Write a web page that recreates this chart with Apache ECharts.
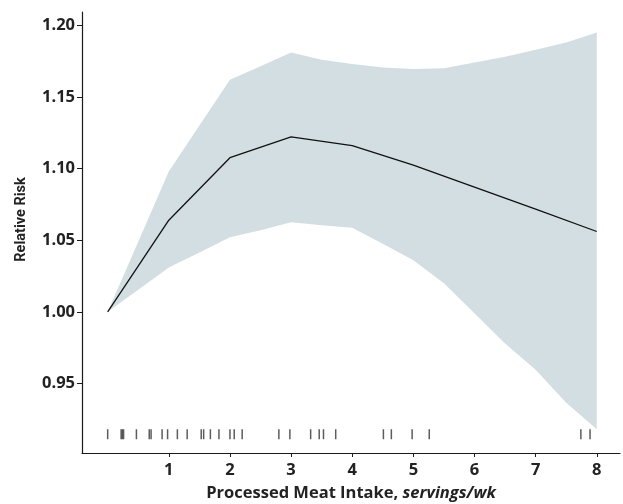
<!DOCTYPE html>
<html>
<head>
<meta charset="utf-8">
<script src="https://cdn.jsdelivr.net/npm/echarts@6/dist/echarts.min.js"></script>
<style>html,body{margin:0;padding:0;background:#fff}#c{width:623px;height:504px}</style>
</head>
<body>
<div id="c"></div>
<script>
// Fitted relative risk curve
var lineX = [0, 1, 2, 3, 4, 5, 6, 7, 8];
var lineRR = [1.000, 1.064, 1.1076, 1.1222, 1.116, 1.1025, 1.0871, 1.0717, 1.0561];
// Confidence band
var bandX = [0, 0.5, 1, 1.5, 2, 2.5, 3, 3.5, 4, 4.5, 5, 5.5, 6, 6.5, 7, 7.5, 8];
var bandUpper = [1.000, 1.049, 1.098, 1.130, 1.162, 1.1715, 1.181, 1.176, 1.173, 1.1705, 1.1695, 1.170, 1.174, 1.178, 1.183, 1.188, 1.195];
var bandLower = [1.000, 1.0155, 1.031, 1.0415, 1.052, 1.057, 1.0625, 1.0605, 1.0588, 1.0476, 1.036, 1.020, 0.999, 0.978, 0.9596, 0.9366, 0.918];
// Rug of observed intakes
var rugX = [0, 0.22, 0.24, 0.26, 0.47, 0.68, 0.71, 0.89, 0.98, 1.14, 1.30, 1.53, 1.57, 1.68, 1.82, 2.0, 2.07, 2.20, 2.80, 2.98, 3.32, 3.46, 3.53, 3.73, 4.51, 4.64, 4.98, 5.26, 7.74, 7.89];
var rugLevel = 0.9146;
// Ticks
var xTicks = [1, 2, 3, 4, 5, 6, 7, 8];
var yTicks = [0.95, 1.00, 1.05, 1.10, 1.15, 1.20];

var FONT = '"Open Sans", "Noto Sans", sans-serif';
var NARROW = 'Roboto, "Open Sans", sans-serif';
var chart = echarts.init(document.getElementById('c'), null, {renderer: 'canvas'});
var axisColor = '#1a1a1a';
chart.setOption({
  animation: false,
  grid: {left: 82, right: 3, top: 12, bottom: 51, containLabel: false, outerBoundsMode: 'none'},
  xAxis: {
    type: 'value', min: -0.42, max: 8.38,
    axisLine: {show: true, onZero: false, lineStyle: {color: axisColor, width: 1.2}},
    axisTick: {show: true, length: 4, customValues: xTicks, lineStyle: {color: axisColor}},
    axisLabel: {customValues: xTicks, margin: 9, color: '#222', fontFamily: FONT, fontWeight: 'bold', fontSize: 16.5},
    splitLine: {show: false},
    name: '{a|Processed Meat Intake, }{b|servings/wk}',
    nameLocation: 'middle', nameGap: 32,
    nameTextStyle: {rich: {
      a: {fontFamily: FONT, fontWeight: 'bold', fontSize: 16.5, color: '#222'},
      b: {fontFamily: FONT, fontWeight: 'bold', fontStyle: 'italic', fontSize: 16.5, color: '#222'}
    }}
  },
  yAxis: {
    type: 'value', min: 0.9015, max: 1.2093,
    axisLine: {show: true, onZero: false, lineStyle: {color: axisColor, width: 1.2}},
    axisTick: {show: true, length: 5, customValues: yTicks, lineStyle: {color: axisColor}},
    axisLabel: {customValues: yTicks, margin: 7, color: '#222', fontFamily: FONT, fontWeight: 'bold', fontSize: 16.5,
      formatter: function (v) { return v.toFixed(2); }},
    splitLine: {show: false},
    name: 'Relative Risk', nameLocation: 'middle', nameGap: 53,
    nameTextStyle: {fontFamily: NARROW, fontWeight: 'bold', fontSize: 14.5, color: '#222', padding: [0, 0, 0, 26]}
  },
  series: [
    {
      type: 'custom', silent: true, z: 1,
      data: [[0, 1]],
      renderItem: function (params, api) {
        var pts = [];
        for (var i = 0; i < bandX.length; i++) pts.push(api.coord([bandX[i], bandUpper[i]]));
        for (var j = bandX.length - 1; j >= 0; j--) pts.push(api.coord([bandX[j], bandLower[j]]));
        return {type: 'polygon', shape: {points: pts}, style: {fill: '#d3dee2'}};
      }
    },
    {
      type: 'line', symbol: 'none', z: 5,
      data: lineX.map(function (x, i) { return [x, lineRR[i]]; }),
      lineStyle: {color: '#111', width: 1.3}
    },
    {
      type: 'scatter', symbol: 'rect', symbolSize: [1.5, 10], z: 6,
      data: rugX.map(function (x) { return [x, rugLevel]; }),
      itemStyle: {color: '#333'}
    }
  ]
});
</script>
</body>
</html>
